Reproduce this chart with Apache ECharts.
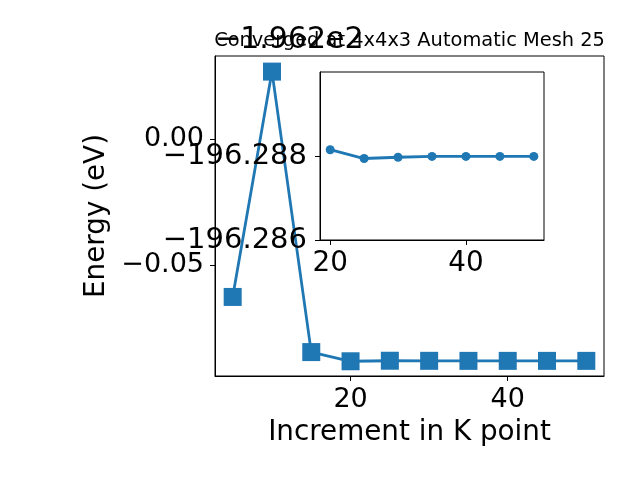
<!DOCTYPE html>
<html><head><meta charset="utf-8">
<script src="https://cdn.jsdelivr.net/npm/echarts@6/dist/echarts.min.js"></script>
<style>html,body{margin:0;padding:0;background:#fff}#c{width:640px;height:480px}</style>
</head><body><div id="c"></div>
<script>
const kPoints = [5, 10, 15, 20, 25, 30, 35, 40, 45, 50];
const energies = [-196.2626, -196.1731, -196.2845, -196.28815, -196.28794, -196.28797, -196.28799, -196.28799, -196.28799, -196.28799];
const insetK = [20, 25, 30, 35, 40, 45, 50];
const insetEnergies = [-196.28815, -196.28794, -196.28797, -196.28799, -196.28799, -196.28799, -196.28799];
const mainXTicks = [20, 40];
const mainYTicks = [-0.05, 0.0];
const insetXTicks = [20, 40];
const insetYTicks = [-196.288, -196.286];
const yOffset = -196.2;
const offsetLabel = '\u22121.962e2';
const titleText = 'Converged at 4x4x3 Automatic Mesh 25';
const xName = 'Increment in K point';
const yName = 'Energy (eV)';

const FONT = 'DejaVu Sans';
const BLUE = '#1f77b4';
const fmt = (d) => (v) => { const s = Math.abs(v).toFixed(d); return (v < 0 ? '\u2212' : '') + s; };

const mainData = kPoints.map((k, i) => [k, +(energies[i] - yOffset).toFixed(6)]);
const insetData = insetK.map((k, i) => [k, insetEnergies[i]]);

const axisCommon = {
  axisLine: { show: true, onZero: false, lineStyle: { color: '#000', width: 1 } },
  splitLine: { show: false },
  axisTick: { show: true, inside: false, length: 5, lineStyle: { color: '#000', width: 1 } }
};

const chart = echarts.init(document.getElementById('c'), null, { renderer: 'canvas' });
chart.setOption({
  animation: false,
  backgroundColor: '#fff',
  grid: [
    { left: 215, top: 56, width: 389, height: 320, show: true, borderColor: '#000', borderWidth: 1, backgroundColor: 'transparent' },
    { left: 320, top: 72, width: 224, height: 168, show: true, borderColor: '#000', borderWidth: 1, backgroundColor: '#fff', z: 5 }
  ],
  xAxis: [
    Object.assign({}, axisCommon, {
      gridIndex: 0, type: 'value', min: 2.75, max: 52.25,
      axisTick: Object.assign({}, axisCommon.axisTick, { customValues: mainXTicks }),
      axisLabel: { customValues: mainXTicks, fontFamily: FONT, fontSize: 27, color: '#000', margin: 10 },
      name: xName, nameLocation: 'middle', nameGap: 43,
      nameTextStyle: { fontFamily: FONT, fontSize: 27.8, color: '#000' }
    }),
    Object.assign({}, axisCommon, {
      gridIndex: 1, type: 'value', min: 18.5, max: 51.5, z: 6,
      axisTick: Object.assign({}, axisCommon.axisTick, { customValues: insetXTicks }),
      axisLabel: { customValues: insetXTicks, fontFamily: FONT, fontSize: 27.8, color: '#000', margin: 10 }
    })
  ],
  yAxis: [
    Object.assign({}, axisCommon, {
      gridIndex: 0, type: 'value', min: -0.0940, max: 0.0331,
      axisTick: Object.assign({}, axisCommon.axisTick, { customValues: mainYTicks }),
      axisLabel: { customValues: mainYTicks, formatter: fmt(2), fontFamily: FONT, fontSize: 27, color: '#000', margin: 11 },
      name: yName, nameLocation: 'middle', nameGap: 102, nameRotate: 90,
      nameTextStyle: { fontFamily: FONT, fontSize: 27.8, color: '#000' }
    }),
    Object.assign({}, axisCommon, {
      gridIndex: 1, type: 'value', min: -196.29, max: -196.286, inverse: true, z: 6,
      axisTick: Object.assign({}, axisCommon.axisTick, { customValues: insetYTicks }),
      axisLabel: { customValues: insetYTicks, formatter: fmt(3), fontFamily: FONT, fontSize: 29, color: '#000', margin: 13 }
    })
  ],
  series: [
    { type: 'line', xAxisIndex: 0, yAxisIndex: 0, data: mainData, symbol: 'rect', symbolSize: 18,
      lineStyle: { color: BLUE, width: 2.8 }, itemStyle: { color: BLUE }, z: 2 },
    { type: 'line', xAxisIndex: 1, yAxisIndex: 1, data: insetData, symbol: 'circle', symbolSize: 9,
      lineStyle: { color: BLUE, width: 2.8 }, itemStyle: { color: BLUE }, z: 7 }
  ],
  graphic: [
    { type: 'text', x: 215, y: 40, z: 10, style: { text: offsetLabel, fontFamily: FONT, fontSize: 30, fill: '#000', align: 'left', verticalAlign: 'middle' } },
    { type: 'text', x: 409.5, y: 41, z: 11, style: { text: titleText, fontFamily: FONT, fontSize: 19.4, fill: '#000', align: 'center', verticalAlign: 'middle' } }
  ]
});
</script>
</body></html>
